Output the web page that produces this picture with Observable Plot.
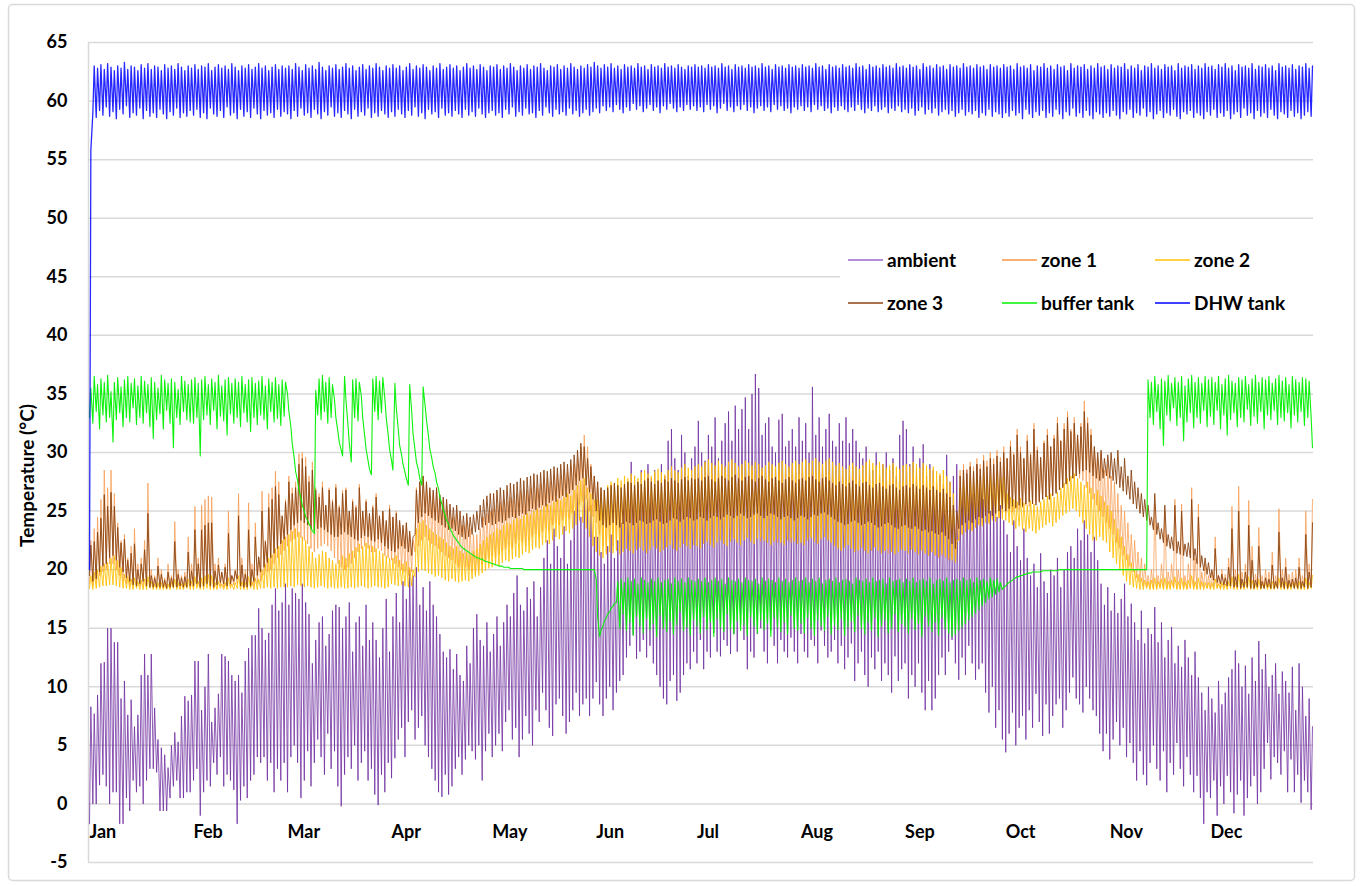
<!DOCTYPE html>
<html><head><meta charset="utf-8">
<script src="https://cdn.jsdelivr.net/npm/d3@7"></script>
<script src="https://cdn.jsdelivr.net/npm/@observablehq/plot@0.6"></script>
<style>
body{margin:0;background:#fff;}
#chart{position:relative;width:1362px;height:886px;}
#warn{position:absolute;left:100px;top:10px;color:red;font:12px sans-serif;}
</style></head><body><div id="chart"></div><div id="warn"></div>
<script>
// ---- categories / ticks ----
const months = ["Jan","Feb","Mar","Apr","May","Jun","Jul","Aug","Sep","Oct","Nov","Dec"];
const monthStartDay = [0,31,59,90,120,151,181,212,243,273,304,334];
const yTicks = [-5,0,5,10,15,20,25,30,35,40,45,50,55,60,65];
const seriesNames = ["ambient","zone 1","zone 2","zone 3","buffer tank","DHW tank"];
const seriesColors = ["#7030A0","#F79646","#FFC000","#8B4513","#00F000","#0000FF"];
const legendColors = ["#9966CC","#F79646","#FFC000","#8B4513","#00F000","#0000FF"];

// ---- daily values (morning reading, afternoon reading), Jan..Dec ----
const ambientLo = [
-1.7,0.0,0.0,1.6,2.5,1.5,0.0,1.0,1.0,-1.7,-1.7,0.5,-0.6,2.0,1.0,1.5,0.0,2.0,3.0,3.0,2.7,-0.6,-0.6,-0.6,0.5,1.5,2.0,0.5,0.5,1.0,1.0,
2.0,3.0,-1.0,1.0,2.0,1.5,3.5,2.5,4.0,1.5,2.5,2.0,1.2,-1.7,0.3,1.5,0.5,2.0,2.5,4.0,3.5,4.0,2.0,3.5,1.0,3.0,2.0,3.5,
1.0,4.0,5.0,3.5,0.5,2.0,4.5,1.5,3.5,5.5,4.0,2.5,6.0,3.0,4.5,1.5,-0.2,2.5,4.0,3.0,5.0,2.0,3.5,4.5,2.0,3.0,0.8,-0.1,2.5,1.0,3.5,
2.2,3.9,5.5,6.5,4.0,7.0,8.0,5.5,6.5,7.5,5.0,4.0,3.0,2.0,1.0,0.6,2.5,0.8,1.5,3.0,4.0,2.5,3.8,5.0,4.5,3.8,5.0,2.0,4.5,6.0,
4.0,5.0,6.0,4.5,7.0,8.0,5.5,6.5,4.0,5.5,7.5,6.0,5.0,8.0,7.0,9.5,8.0,6.5,5.8,8.5,9.0,7.5,6.0,7.0,8.0,9.5,7.5,8.5,9.0,7.5,9.0,
10.4,8.5,7.5,9.0,10.0,8.0,9.5,10.5,11.0,12.5,13.5,14.4,12.4,13.0,14.0,12.5,13.5,12.0,11.0,10.0,9.0,8.5,10.5,11.0,8.8,9.5,11.0,12.0,11.5,13.0,
12.0,14.0,11.5,13.0,12.5,14.6,13.0,12.6,14.0,13.5,12.8,14.5,13.0,15.3,14.0,11.5,13.0,12.5,14.5,15.0,13.0,12.0,14.8,13.5,12.0,14.0,13.0,12.5,14.2,13.0,12.0,
14.5,13.0,12.5,14.0,13.5,12.0,14.8,13.5,12.5,13.0,14.0,12.0,13.5,11.5,12.5,13.7,10.5,12.0,13.0,11.0,10.0,12.5,11.5,13.0,10.5,12.0,11.0,9.5,12.6,10.5,11.5,
12.0,9.0,11.0,10.0,12.0,9.5,8.0,10.5,8.0,9.0,11.0,12.5,11.0,13.0,14.0,12.0,10.6,12.5,11.0,13.5,12.0,10.6,11.5,12.0,9.5,7.8,10.0,6.5,8.0,5.5,
4.4,6.0,7.8,5.0,6.5,7.5,5.5,8.0,6.5,9.4,7.0,5.8,8.5,6.0,7.5,8.5,9.0,6.5,8.0,9.5,10.8,9.0,8.5,7.8,10.0,9.0,8.0,7.5,6.0,4.5,6.0,
3.8,5.5,7.0,5.0,6.5,4.0,5.2,3.5,2.0,4.5,2.5,1.6,3.5,5.0,3.0,2.0,4.5,1.0,3.5,2.5,5.2,3.0,1.5,4.0,2.5,1.0,2.4,0.5,-1.7,1.0,
0.5,2.0,-1.0,1.5,0.0,2.4,1.0,-0.8,0.8,2.0,-1.0,0.5,1.5,2.4,0.0,1.0,3.0,5.2,2.1,4.0,3.5,2.5,4.5,1.0,3.8,1.0,2.5,0.1,2.0,1.0,-0.5];
const ambientHi = [
8.3,7.7,9.3,12.0,12.1,15.0,15.0,13.8,13.8,9.0,10.5,7.6,8.9,6.6,7.6,11.0,12.8,11.0,12.8,8.2,5.5,4.8,4.2,3.1,5.0,6.1,5.3,7.5,9.2,8.8,9.3,
12.2,12.2,8.0,10.0,12.8,7.0,8.2,9.4,12.8,12.6,12.2,11.0,10.5,11.0,9.5,12.2,13.3,14.4,14.4,16.7,15.0,14.0,14.6,17.0,18.4,16.5,17.2,18.8,
17.0,18.4,18.0,17.5,18.8,17.2,16.2,12.0,14.0,15.5,16.0,13.5,14.5,16.5,17.0,16.8,15.0,16.0,17.2,13.0,15.5,16.0,13.5,17.0,14.0,15.5,14.0,12.5,15.0,17.5,13.0,
16.0,18.0,15.5,19.0,17.5,20.0,19.5,20.2,17.0,18.5,16.5,19.0,17.0,16.0,14.5,13.0,12.5,13.2,11.5,12.8,11.0,10.5,13.5,12.0,15.0,16.2,14.0,13.5,15.5,13.0,
14.5,16.0,13.5,15.5,17.0,16.0,18.0,19.5,17.0,16.5,18.5,17.5,19.0,16.0,18.5,21.0,22.5,20.5,23.5,22.0,21.0,23.7,20.5,22.5,25.0,26.5,24.5,27.3,26.0,25.5,22.8,
22.8,21.5,20.5,22.0,23.0,21.0,22.5,24.0,26.0,27.5,29.2,28.0,27.3,28.5,27.0,29.0,27.8,28.5,26.5,29.0,28.0,31.0,32.0,29.5,28.5,31.5,30.0,28.0,29.5,30.5,
32.7,30.0,29.3,31.5,30.5,33.0,29.5,31.0,32.5,33.5,31.0,34.0,32.0,33.7,34.7,32.0,35.0,36.7,35.5,31.5,32.5,33.0,30.5,30.0,32.8,33.3,30.5,31.0,32.0,30.5,33.0,
31.0,32.5,30.0,35.6,31.5,33.0,30.5,32.0,33.3,31.0,30.5,32.5,31.0,33.0,30.8,32.0,31.0,30.0,29.5,30.5,29.0,28.5,30.0,28.0,29.0,30.0,28.5,29.5,28.0,31.5,32.7,
32.0,29.0,30.5,28.5,29.5,30.7,28.0,29.0,28.5,27.0,28.0,26.5,29.8,27.5,28.0,29.0,26.0,27.5,28.5,27.0,26.5,29.0,28.0,26.0,27.0,25.0,26.5,24.5,25.5,24.2,
23.0,21.5,24.2,22.0,20.8,23.5,21.0,19.5,20.5,18.5,21.4,19.0,18.0,20.0,19.5,21.0,18.5,20.0,21.5,22.0,21.0,23.5,22.5,24.2,23.0,21.5,22.8,20.8,18.8,17.0,18.5,
16.5,18.0,16.3,17.5,18.8,16.0,17.1,15.5,14.0,16.5,13.7,15.0,14.5,16.8,13.8,15.5,12.5,14.0,15.1,12.0,13.5,11.7,14.0,12.5,11.0,13.0,10.8,9.5,8.0,10.0,
9.0,7.8,10.5,8.5,9.5,10.8,11.5,13.1,12.0,10.0,11.8,9.4,12.5,10.5,13.9,11.5,12.8,10.0,11.0,12.0,9.4,11.3,10.5,9.5,11.7,8.0,12.0,10.0,7.5,9.0,6.6];

const zone1Lo = [
18.8,18.6,18.8,19.5,19.8,20.0,20.5,20.5,20.0,19.5,19.0,18.8,18.6,18.5,18.5,18.6,18.6,18.5,18.5,18.4,18.4,18.4,18.4,18.4,18.4,18.5,18.5,18.4,18.4,18.5,18.5,
18.5,18.6,18.5,18.5,18.6,18.5,18.4,18.5,18.6,18.5,18.5,18.6,18.7,18.8,18.5,18.4,18.5,18.5,18.6,18.8,19.0,19.5,19.8,20.0,20.5,21.0,21.3,21.6,
22.0,22.4,22.6,22.8,22.7,22.5,22.2,21.8,21.5,21.8,22.0,22.2,22.0,21.6,21.0,20.5,20.2,20.0,20.2,20.5,21.0,21.5,21.8,22.0,21.8,21.5,21.5,21.8,21.6,21.2,21.0,
20.8,20.5,20.2,20.0,19.8,19.5,19.8,21.5,22.0,22.5,22.8,22.5,22.2,22.0,21.8,21.5,21.2,21.0,20.8,20.5,20.2,20.0,20.2,20.0,19.8,19.6,20.0,20.5,20.8,21.0,
21.2,21.0,21.3,21.6,21.8,22.0,21.8,22.2,22.5,22.3,22.0,22.5,22.8,23.0,22.8,23.2,23.5,23.3,23.8,24.0,23.8,24.2,24.5,24.3,24.8,25.0,25.5,25.8,26.0,25.0,24.5,
24.0,23.0,22.0,21.5,21.8,22.0,22.3,22.0,21.8,22.2,22.5,22.3,22.0,22.4,22.6,22.3,22.0,22.5,22.8,22.5,22.2,22.0,22.4,22.6,22.3,22.5,22.8,22.6,22.4,22.7,
22.6,22.4,22.8,22.5,22.3,22.7,22.9,22.6,22.4,22.8,23.0,22.7,22.5,22.9,23.1,22.8,22.6,23.0,22.7,22.4,22.6,22.9,22.7,22.5,22.3,22.6,22.8,22.5,22.3,22.6,22.8,
22.6,22.4,22.7,22.9,22.6,22.4,22.8,23.0,22.7,22.4,22.2,22.0,21.8,22.1,22.3,22.0,21.8,21.6,21.9,22.1,21.8,21.6,21.9,22.1,21.8,21.6,21.4,21.7,21.9,21.6,21.8,
22.0,21.8,22.0,21.6,21.5,21.8,21.4,21.3,21.5,21.2,21.0,21.2,21.0,20.8,21.0,21.2,22.5,23.0,23.2,23.5,23.4,23.7,23.9,24.0,24.2,24.1,24.4,24.6,24.5,24.8,
24.8,25.0,24.9,25.2,25.1,25.3,25.5,25.4,25.6,25.8,25.7,26.0,26.2,26.0,26.4,26.6,26.8,27.0,27.3,27.5,27.8,28.0,27.8,27.6,27.0,26.5,26.0,25.5,25.0,24.5,24.0,
23.5,23.0,22.3,21.8,21.2,20.8,20.3,19.8,19.3,18.9,18.6,18.5,18.5,18.4,18.5,18.5,18.4,18.4,18.5,18.5,18.4,18.4,18.5,18.4,18.4,18.5,18.4,18.4,18.5,18.4,
18.4,18.5,18.4,18.4,18.5,18.4,18.4,18.5,18.4,18.4,18.5,18.4,18.4,18.4,18.5,18.4,18.4,18.5,18.4,18.4,18.4,18.5,18.4,18.4,18.5,18.4,18.4,18.4,18.5,18.4,18.5];
const zone1Hi = [
22.5,23.5,24.5,26.0,28.5,27.0,28.5,26.5,24.0,22.5,23.0,21.0,22.0,23.5,20.5,21.0,22.5,27.4,20.0,19.5,21.0,20.0,19.3,20.5,19.5,24.1,20.0,19.5,19.8,22.8,20.5,
25.4,21.0,25.5,26.0,26.3,26.2,20.5,21.0,19.8,20.5,25.0,19.5,20.0,26.5,21.0,20.0,25.7,20.5,24.0,21.0,26.7,22.5,26.5,27.0,28.4,27.5,24.5,26.0,
28.0,27.0,27.5,29.9,30.0,29.6,28.0,29.2,27.0,26.5,27.5,25.5,27.0,26.0,27.3,25.5,26.8,27.0,25.0,26.0,25.5,27.3,25.0,26.0,24.5,25.5,26.5,24.5,25.0,24.0,25.5,
24.5,25.0,24.0,23.5,24.0,23.0,22.5,27.0,27.5,28.0,27.3,26.8,26.5,27.0,26.0,25.8,25.5,25.0,24.5,25.0,24.2,23.8,24.0,23.5,23.0,23.0,23.5,24.5,24.8,25.0,
25.2,25.5,25.8,26.0,25.8,26.2,26.0,26.5,26.8,26.5,26.8,27.0,27.2,27.0,27.3,27.5,27.8,27.5,28.0,28.2,28.0,28.5,28.3,28.8,29.0,29.5,30.5,31.5,30.5,29.0,28.0,
27.5,27.0,26.5,26.8,27.0,27.3,27.0,26.8,27.2,27.5,27.3,27.0,27.4,27.2,27.5,27.8,27.3,27.0,27.5,27.2,27.6,27.4,27.8,27.5,27.3,27.6,27.9,27.5,27.8,27.6,
27.8,28.0,27.6,27.9,28.2,28.0,27.7,28.1,28.3,28.0,27.8,28.2,28.4,28.1,27.9,28.3,28.5,28.2,28.0,28.4,28.2,27.9,28.1,28.4,28.6,28.3,28.0,28.2,28.5,28.3,28.1,
28.4,28.2,28.0,28.5,28.3,28.6,28.4,28.1,28.3,28.0,27.8,28.1,27.9,27.6,27.8,28.0,27.7,27.5,27.8,28.0,27.6,27.4,27.7,27.9,27.5,27.3,27.6,27.8,27.4,27.2,27.5,
27.8,27.5,27.9,28.0,27.6,28.2,27.8,27.5,27.9,27.4,27.0,27.3,26.8,26.5,25.5,24.5,28.5,29.0,28.6,29.2,28.8,29.5,29.0,29.8,29.3,30.0,29.5,30.2,29.6,30.5,
29.5,31.0,30.0,32.0,30.5,29.5,31.5,30.0,32.5,30.5,29.5,31.0,32.0,30.5,31.5,33.0,31.0,32.5,33.5,32.0,33.0,31.5,32.5,34.4,33.0,32.0,30.5,29.5,30.0,28.5,29.0,
28.0,27.5,26.5,25.5,25.0,24.0,23.0,22.5,21.5,21.0,20.5,19.5,20.0,25.6,19.5,20.5,25.0,19.8,20.5,26.0,20.0,25.6,19.5,20.5,27.0,21.0,25.6,19.8,20.5,19.5,
19.8,22.8,19.5,20.0,19.6,21.0,25.4,20.0,27.1,19.8,20.5,25.9,22.0,19.6,23.6,19.5,20.0,19.8,21.5,19.5,25.2,20.0,21.0,19.6,19.8,20.0,21.0,19.5,25.0,20.5,26.0];

const zone2Lo = [
18.4,18.3,18.4,18.5,18.6,18.6,18.7,18.7,18.6,18.5,18.4,18.4,18.3,18.3,18.4,18.3,18.3,18.3,18.4,18.3,18.3,18.3,18.3,18.3,18.3,18.4,18.3,18.3,18.3,18.4,18.3,
18.3,18.4,18.3,18.3,18.4,18.3,18.3,18.3,18.4,18.3,18.3,18.4,18.3,18.4,18.3,18.3,18.3,18.4,18.3,18.3,18.4,18.4,18.5,18.4,18.5,18.4,18.5,18.5,
18.5,18.6,18.5,18.7,18.6,18.5,18.6,18.5,18.4,18.5,18.6,18.5,18.4,18.5,18.4,18.4,18.5,18.4,18.4,18.5,18.4,18.5,18.6,18.5,18.4,18.5,18.6,18.5,18.5,18.4,18.5,
18.8,18.7,18.6,18.7,18.6,18.5,18.6,19.4,19.8,20.0,19.9,19.7,19.6,19.4,19.5,19.3,19.1,19.0,19.2,19.0,18.9,19.0,19.1,19.0,19.2,19.4,19.5,19.7,19.9,20.1,
20.2,20.4,20.3,20.6,20.8,20.7,20.9,21.1,21.0,21.3,21.5,21.4,21.7,21.9,21.8,22.1,22.3,22.2,22.5,22.8,22.6,23.0,23.3,23.1,23.5,23.8,24.2,24.0,23.5,22.8,22.0,
21.5,21.2,21.0,21.3,21.5,21.4,21.6,21.3,21.5,21.8,21.6,21.4,21.7,21.9,21.6,21.4,21.7,22.0,21.8,21.5,21.7,21.9,22.1,21.8,21.6,21.9,22.2,22.0,21.8,22.1,
22.0,21.8,22.2,22.4,22.1,21.9,22.3,22.5,22.2,22.0,22.4,22.6,22.3,22.1,22.5,22.7,22.4,22.2,22.6,22.8,22.5,22.3,22.1,22.4,22.6,22.3,22.1,22.5,22.7,22.4,22.2,
22.3,22.1,22.5,22.7,22.4,22.2,22.6,22.8,22.5,22.3,22.0,21.8,21.6,21.9,22.1,21.8,21.5,21.7,21.9,21.6,21.4,21.7,21.9,21.6,21.4,21.6,21.8,21.5,21.3,21.5,21.7,
21.6,21.4,21.7,21.5,21.3,21.6,21.4,21.2,21.5,21.3,21.1,21.4,21.2,21.0,20.8,20.6,22.5,23.0,23.2,23.4,23.3,23.6,23.8,23.7,24.0,23.9,24.2,24.1,24.4,24.3,
24.2,24.0,23.8,23.5,23.7,23.4,23.2,23.5,23.3,23.1,23.4,23.6,23.8,24.0,23.7,24.0,24.3,24.6,24.8,25.0,25.2,25.0,24.5,24.0,23.5,23.0,22.5,22.5,22.8,22.5,22.3,
21.5,21.0,20.5,20.0,19.5,19.0,18.7,18.5,18.4,18.3,18.3,18.4,18.3,18.3,18.3,18.4,18.3,18.3,18.3,18.4,18.3,18.3,18.3,18.3,18.4,18.3,18.3,18.3,18.3,18.4,
18.3,18.3,18.4,18.3,18.3,18.3,18.4,18.3,18.3,18.3,18.3,18.4,18.3,18.3,18.3,18.3,18.4,18.3,18.3,18.3,18.4,18.3,18.3,18.3,18.3,18.4,18.3,18.3,18.3,18.3,18.4];
const zone2Hi = [
19.5,19.8,20.0,20.3,20.5,20.6,21.0,21.2,20.8,20.2,19.6,19.4,19.2,19.3,19.0,19.1,19.2,19.4,19.0,18.8,18.9,18.9,18.8,18.8,18.9,19.2,18.9,18.8,18.9,19.2,19.0,
19.4,19.0,19.3,19.5,19.6,19.5,18.9,19.0,18.8,18.9,19.3,18.8,18.9,19.5,19.0,18.9,19.4,19.0,19.3,19.2,20.0,20.5,21.0,21.3,21.8,22.0,22.5,22.8,
23.0,23.3,23.5,23.2,22.8,22.5,22.0,21.5,21.0,21.3,21.6,21.5,21.0,20.8,20.5,20.8,21.2,21.0,21.4,21.6,21.9,22.2,22.0,22.3,22.1,22.0,21.8,21.6,21.4,21.2,21.0,
21.0,21.2,20.8,20.5,20.7,20.2,20.0,23.5,24.0,24.2,23.8,23.5,23.2,23.0,22.8,22.6,22.3,22.0,21.8,22.0,21.6,21.4,21.5,21.3,21.6,21.8,22.2,22.5,22.8,23.0,
23.2,23.5,23.4,23.8,24.0,23.9,24.2,24.4,24.3,24.6,24.8,24.7,25.0,25.2,25.1,25.4,25.6,25.5,25.8,26.0,25.9,26.2,26.5,26.3,26.8,27.2,27.6,27.8,27.0,26.5,26.0,
26.0,26.5,26.8,27.2,27.5,27.3,27.8,27.6,28.0,27.8,28.2,28.0,27.8,28.3,28.5,28.2,28.0,28.4,28.6,28.3,28.1,28.5,28.8,28.5,28.3,28.7,29.0,28.7,28.5,28.8,
29.0,28.8,29.2,29.4,29.1,28.9,29.3,29.0,28.8,29.2,29.4,29.1,28.8,29.0,29.3,29.1,28.9,29.2,29.0,28.7,28.9,29.2,29.0,28.8,29.1,29.3,29.0,28.8,29.1,29.3,29.0,
29.2,29.4,29.1,29.3,29.5,29.2,29.0,29.3,29.5,29.2,28.9,29.1,28.8,28.6,28.9,29.1,28.8,28.6,28.9,29.2,29.4,29.1,28.9,29.2,29.0,28.7,28.9,29.1,28.8,28.6,28.9,
29.0,28.8,29.2,29.0,28.7,29.1,28.9,28.6,28.8,28.4,28.2,28.5,28.0,27.5,26.5,22.5,27.0,27.5,27.2,27.8,27.5,28.0,27.6,28.2,27.8,28.0,27.5,28.2,27.8,28.0,
26.5,26.2,26.0,25.8,26.1,25.7,25.5,25.9,25.6,25.4,25.8,26.0,26.3,26.5,26.2,26.6,27.0,27.4,27.8,28.0,28.2,27.8,27.5,27.2,27.5,27.0,26.5,26.8,26.3,25.8,25.5,
25.0,24.3,23.5,22.8,22.0,21.3,20.6,20.0,19.6,19.3,19.1,19.0,19.1,19.3,19.0,19.2,19.3,19.0,19.1,19.4,19.0,19.3,19.0,19.1,19.5,19.0,19.3,19.0,18.9,18.9,
18.9,19.2,18.8,18.9,18.8,19.0,19.4,18.9,19.6,18.9,19.0,19.4,19.1,18.8,19.2,18.8,18.9,18.8,19.0,18.8,19.3,18.9,19.0,18.8,18.9,18.9,19.0,18.8,19.3,18.9,19.5];

const zone3Lo = [
19.5,19.0,19.2,19.8,20.3,20.5,21.0,21.2,20.8,20.2,19.8,19.3,19.0,18.7,18.6,18.8,19.0,18.6,18.5,18.5,18.5,18.5,18.5,18.4,18.5,18.5,18.5,18.6,18.5,18.5,18.6,
18.6,18.8,18.5,18.6,18.8,18.6,18.5,18.7,18.9,18.8,18.6,18.8,19.0,19.2,18.6,18.5,18.5,18.6,19.0,19.5,19.8,20.2,20.6,21.0,21.4,21.8,22.2,22.6,
23.0,23.4,23.8,24.0,24.2,24.0,23.8,23.5,23.3,23.5,23.6,23.4,23.2,23.0,22.8,22.8,23.0,23.2,23.0,22.8,22.6,22.5,22.7,22.9,22.8,22.5,22.4,22.6,22.3,22.0,21.8,
21.6,21.5,21.8,22.0,21.8,21.5,21.2,23.0,24.0,24.5,24.8,24.6,24.4,24.2,24.0,23.8,23.6,23.4,23.5,23.3,23.0,22.8,22.6,22.8,23.0,23.2,23.4,23.6,23.8,24.0,
23.8,23.9,24.1,24.0,24.2,24.4,24.5,24.4,24.6,24.8,24.7,25.0,25.2,25.1,25.3,25.5,25.4,25.7,25.9,25.8,26.1,26.3,26.2,26.5,26.8,27.2,27.6,27.8,27.2,26.6,26.0,
25.0,24.2,23.8,23.6,23.8,24.0,23.8,23.6,23.9,24.1,24.0,23.8,24.0,24.2,24.1,23.9,24.0,24.2,24.3,24.1,23.9,24.0,24.2,24.4,24.3,24.1,24.3,24.5,24.4,24.2,
24.3,24.5,24.4,24.2,24.4,24.6,24.5,24.3,24.5,24.7,24.6,24.4,24.6,24.8,24.6,24.4,24.5,24.7,24.8,24.6,24.4,24.6,24.8,24.7,24.5,24.3,24.5,24.6,24.4,24.2,24.4,
24.6,24.5,24.3,24.5,24.7,24.6,24.8,24.9,24.7,24.5,24.3,24.1,24.0,23.8,23.9,24.1,24.2,24.0,23.8,23.9,24.1,24.0,23.8,23.6,23.7,23.9,24.0,23.8,23.6,23.5,23.7,
23.8,23.6,23.5,23.7,23.5,23.3,23.4,23.2,23.3,23.1,23.0,23.2,22.9,22.6,22.2,21.8,23.5,23.8,24.0,24.2,24.0,24.3,24.5,24.4,24.6,24.8,24.6,24.8,25.0,25.2,
25.0,25.2,25.4,25.3,25.5,25.4,25.6,25.8,25.6,25.5,25.8,26.0,26.2,26.0,26.3,26.5,26.8,27.0,27.3,27.6,27.8,28.0,28.2,28.4,28.5,28.3,28.0,27.8,27.6,27.8,28.0,
27.8,27.6,27.3,27.0,26.7,26.4,26.0,25.6,25.2,24.8,24.5,24.2,23.8,23.4,23.0,22.6,22.3,22.0,21.8,21.6,21.4,21.3,21.2,21.1,21.0,20.8,20.5,20.2,19.9,19.6,
19.3,19.1,18.9,18.8,18.7,18.6,18.6,18.5,18.5,18.4,18.5,18.5,18.4,18.4,18.5,18.4,18.4,18.5,18.4,18.4,18.4,18.5,18.4,18.4,18.5,18.4,18.4,18.4,18.5,18.4,18.5];
const zone3Hi = [
22.1,22.4,23.2,24.4,26.4,25.4,26.6,25.4,23.6,22.3,22.6,20.8,21.4,22.2,20.0,20.5,21.7,24.8,19.5,19.3,20.3,19.6,19.1,19.8,19.3,22.4,19.6,19.3,19.4,21.5,19.9,
23.4,20.5,23.4,23.8,24.0,24.0,19.9,20.4,19.8,20.2,23.1,19.5,19.9,24.6,20.4,19.6,23.4,20.0,22.8,21.1,25.0,22.4,25.3,26.0,27.1,26.4,24.6,25.8,
27.5,26.5,27.0,29.0,29.5,28.8,27.5,28.5,26.8,26.2,27.0,25.5,26.8,25.8,27.0,25.3,26.5,26.8,25.0,25.8,25.3,27.0,25.0,25.8,24.8,25.3,26.2,24.6,25.0,24.2,25.2,
24.5,24.8,24.2,23.8,24.0,23.3,22.8,26.8,27.5,28.0,27.5,27.0,26.8,27.0,26.4,26.2,26.0,25.6,25.3,25.5,25.0,24.6,24.8,24.5,24.7,25.0,25.5,26.0,26.3,26.5,
26.5,26.8,27.0,26.8,27.2,27.4,27.3,27.5,27.8,27.6,27.9,28.0,28.2,28.1,28.3,28.5,28.4,28.6,28.8,28.7,29.0,29.2,29.0,29.4,29.8,30.2,30.8,30.5,29.5,28.8,28.0,
27.5,27.0,26.8,27.0,27.2,27.4,27.2,27.0,27.3,27.5,27.4,27.2,27.5,27.3,27.6,27.8,27.5,27.3,27.6,27.4,27.7,27.5,27.8,27.6,27.4,27.7,27.9,27.6,27.8,27.7,
27.8,27.6,27.9,28.0,27.7,27.5,27.8,28.0,27.8,27.6,27.9,28.1,27.8,27.6,27.9,28.0,27.7,27.5,27.8,28.0,27.7,27.5,27.8,27.9,27.6,27.4,27.7,27.9,27.6,27.4,27.7,
27.8,27.6,27.9,28.0,27.7,27.5,27.8,27.9,27.6,27.4,27.2,27.5,27.3,27.1,27.4,27.6,27.3,27.1,27.4,27.5,27.2,27.0,27.3,27.4,27.1,26.9,27.2,27.3,27.0,26.8,27.1,
27.2,27.0,27.3,27.1,26.9,27.2,27.0,26.8,27.1,26.8,26.6,26.9,26.5,26.2,25.5,25.0,28.0,28.5,28.2,28.8,28.4,29.0,28.6,29.3,28.8,29.5,29.0,29.7,29.2,30.0,
29.5,30.5,29.8,31.5,30.0,29.5,31.0,29.8,32.0,30.2,29.6,30.8,31.5,30.5,31.2,32.5,31.0,32.0,33.0,31.8,32.5,31.5,32.2,33.5,32.5,31.5,30.5,30.0,30.2,29.5,29.8,
30.0,29.5,30.2,28.8,29.5,28.0,28.5,27.5,27.0,26.5,26.0,25.5,24.5,26.5,24.0,23.5,25.5,23.0,22.8,25.5,22.4,25.0,22.2,22.3,26.0,21.8,24.5,21.2,21.0,20.6,
20.0,21.8,19.5,19.6,19.3,20.2,23.5,19.4,25.0,19.2,19.8,23.8,20.8,19.1,22.0,19.0,19.3,19.2,20.4,19.0,23.2,19.3,20.2,19.1,19.2,19.3,20.2,19.0,23.0,19.8,24.0];

const bufferAM = [
33.0,32.5,33.5,32.0,33.2,32.6,33.0,30.9,32.8,33.4,32.2,33.0,32.6,33.8,32.4,33.0,32.5,33.4,32.2,31.2,32.8,33.3,32.0,33.6,32.5,30.4,33.0,32.4,33.5,32.8,32.6,
32.5,33.0,29.7,32.8,33.2,32.4,33.6,32.0,33.1,32.7,31.5,33.3,32.5,33.0,32.2,33.4,32.6,31.8,33.0,32.4,33.2,32.8,32.0,33.5,32.6,32.9,32.3,33.1,
35.0,32.2,29.5,27.6,26.1,25.0,24.2,23.6,23.1,33.2,32.8,33.5,32.5,33.0,34.5,31.8,30.2,36.5,32.4,29.2,33.0,32.7,34.8,31.4,29.3,28.1,33.5,32.8,33.4,34.6,31.5,
29.3,35.9,32.0,29.8,28.3,27.2,33.5,30.2,28.5,27.2,34.0,31.4,29.5,28.2,26.9,25.6,24.6,23.9,23.2,22.7,22.3,21.9,21.7,21.5,21.3,21.1,21.0,20.9,20.7,20.6,
20.5,20.4,20.3,20.3,20.2,20.2,20.1,20.1,20.1,20.1,20.0,20.0,20.0,20.0,20.0,20.0,20.0,20.0,20.0,20.0,20.0,20.0,20.0,20.0,20.0,20.0,20.0,20.0,20.0,20.0,20.0,
19.1,14.3,15.2,15.9,16.4,16.9,17.2,15.0,16.2,14.8,15.5,14.4,16.0,15.2,14.6,15.8,14.9,15.4,14.3,16.1,15.0,14.7,15.6,14.5,15.3,16.4,14.8,15.1,14.4,15.7,
15.2,14.6,16.0,14.9,15.5,14.3,15.8,15.1,14.7,16.2,15.0,14.5,15.6,14.8,15.3,14.4,16.0,15.2,14.6,15.7,14.9,15.4,14.3,15.9,15.1,14.7,15.5,14.5,16.1,15.0,14.8,
15.4,14.6,15.9,15.0,14.4,15.7,15.2,14.8,16.0,14.5,15.3,14.9,15.8,14.4,15.1,15.6,14.7,16.1,15.0,14.5,15.5,14.8,15.9,14.3,15.2,15.7,14.6,15.0,16.2,14.7,15.4,
15.1,14.6,15.8,14.9,15.4,14.3,16.0,15.2,14.7,15.5,14.4,15.9,15.0,14.6,14.3,14.5,14.8,15.1,15.4,15.7,16.0,16.3,16.6,16.9,17.2,17.5,17.7,17.9,18.1,18.3,
18.6,18.9,19.1,19.3,19.4,19.5,19.6,19.7,19.8,19.8,19.8,19.9,19.9,19.9,19.9,19.9,20.0,20.0,20.0,20.0,20.0,20.0,20.0,20.0,20.0,20.0,20.0,20.0,20.0,20.0,20.0,
20.0,20.0,20.0,20.0,20.0,20.0,20.0,20.0,20.0,20.0,20.0,20.0,33.0,32.4,33.5,32.0,30.6,33.2,32.7,33.8,32.3,33.0,31.0,32.6,33.4,32.1,33.0,32.5,33.6,32.2,
33.1,32.4,33.6,32.0,33.2,31.5,32.8,33.4,32.2,33.0,32.6,33.7,32.3,33.1,32.5,33.5,32.0,33.2,32.8,33.6,32.4,33.0,32.7,33.4,32.1,33.2,32.6,33.5,32.3,33.0,33.0];
const bufferPM = [
35.5,36.5,35.8,36.3,36.0,36.6,35.2,36.0,36.4,35.6,36.2,36.5,35.9,36.3,35.7,36.5,36.1,35.8,36.4,36.0,35.5,36.6,36.2,35.9,36.3,36.0,35.4,36.5,36.1,35.8,36.2,
36.4,35.9,36.2,36.5,35.8,36.3,36.0,36.6,35.7,36.2,36.4,35.9,36.3,36.0,36.5,35.8,36.2,36.4,35.9,36.1,36.5,35.7,36.3,36.0,36.4,35.8,36.2,36.0,
33.5,30.8,28.4,26.8,25.5,24.5,23.9,23.3,35.3,36.3,36.6,36.0,36.4,35.8,33.0,30.9,29.7,34.5,30.8,36.2,36.3,36.0,33.0,30.3,28.6,36.3,36.5,36.1,36.4,33.0,30.3,
28.5,33.8,30.6,29.0,27.8,35.8,31.6,29.2,27.8,35.6,32.8,30.3,28.8,27.5,26.2,25.1,24.2,23.5,22.9,22.5,22.1,21.8,21.6,21.4,21.2,21.0,20.9,20.8,20.7,20.6,
20.5,20.4,20.3,20.2,20.2,20.1,20.1,20.1,20.1,20.0,20.0,20.0,20.0,20.0,20.0,20.0,20.0,20.0,20.0,20.0,20.0,20.0,20.0,20.0,20.0,20.0,20.0,20.0,20.0,20.0,20.0,
16.0,14.8,15.6,16.2,16.7,17.1,19.0,19.2,18.9,19.3,19.0,19.2,18.8,19.3,19.1,18.9,19.2,19.0,19.3,18.9,19.1,19.2,18.8,19.3,19.0,19.2,18.9,19.3,19.1,19.0,
19.2,19.0,19.3,18.9,19.1,19.3,19.0,19.2,18.8,19.3,19.1,19.0,19.2,18.9,19.3,19.1,19.0,19.2,18.8,19.3,19.0,19.2,19.1,18.9,19.3,19.0,19.2,18.9,19.1,19.3,19.0,
19.1,19.3,18.9,19.2,19.0,19.3,18.8,19.1,19.2,19.0,19.3,18.9,19.1,19.2,19.0,18.8,19.3,19.1,19.0,19.2,18.9,19.3,19.0,19.1,19.2,18.8,19.3,19.0,19.1,19.2,18.9,
19.2,19.0,19.3,18.9,19.1,19.2,19.0,19.3,18.8,19.1,19.2,19.0,19.3,18.9,19.1,19.2,19.0,19.3,19.1,19.2,18.9,19.3,19.1,19.2,19.0,19.3,19.1,19.2,18.9,18.5,
18.8,19.0,19.2,19.4,19.5,19.6,19.7,19.7,19.8,19.8,19.8,19.9,19.9,19.9,19.9,19.9,20.0,20.0,20.0,20.0,20.0,20.0,20.0,20.0,20.0,20.0,20.0,20.0,20.0,20.0,20.0,
20.0,20.0,20.0,20.0,20.0,20.0,20.0,20.0,20.0,20.0,20.0,36.2,36.0,36.5,35.8,36.3,36.1,36.6,35.9,36.4,36.0,36.5,35.7,36.3,36.6,36.0,36.4,35.9,36.5,36.2,
36.4,36.0,36.5,35.8,36.3,36.6,36.1,35.9,36.4,36.2,36.5,35.8,36.3,36.6,36.0,36.4,36.2,36.5,35.9,36.3,36.6,36.1,36.4,35.8,36.5,36.2,36.0,36.4,36.3,36.1,30.4];

const dhwLo = [
20.0,59.0,58.6,59.2,58.8,59.5,58.7,59.1,58.5,59.3,58.9,59.6,58.6,59.0,58.8,59.4,58.5,59.2,58.7,59.0,58.6,59.3,58.9,58.5,59.1,58.8,59.4,58.6,59.0,58.7,59.2,
58.8,59.3,58.6,59.0,58.5,59.4,58.9,58.7,59.2,58.6,59.5,58.8,59.0,58.5,59.3,58.7,59.1,58.6,59.4,58.9,58.5,59.2,58.8,59.0,58.6,59.3,58.7,59.1,
58.9,58.5,59.2,58.7,59.4,58.8,59.0,58.6,59.3,58.9,58.5,59.1,58.8,59.5,58.7,59.0,58.6,59.2,58.9,58.5,59.3,58.7,59.1,58.8,59.4,58.6,59.0,58.7,59.2,58.9,58.6,
59.1,58.7,59.3,58.9,58.6,59.2,58.8,59.5,58.7,59.0,58.5,59.3,58.9,59.1,58.6,59.4,58.8,59.0,58.7,59.2,58.9,58.6,59.3,58.8,59.1,58.7,59.4,58.9,58.6,59.0,
59.2,58.8,59.0,58.6,59.3,58.9,59.5,58.7,59.1,58.8,59.4,58.9,59.0,58.6,59.2,58.8,59.5,59.0,58.7,59.3,58.9,59.1,58.8,59.4,58.9,59.2,58.7,59.0,59.3,58.8,59.1,
59.4,59.0,59.6,59.2,59.5,59.1,59.7,59.3,59.0,59.5,59.2,59.8,59.3,59.6,59.1,59.4,59.7,59.2,59.5,59.0,59.6,59.3,59.8,59.4,59.1,59.5,59.2,59.7,59.3,59.6,
59.2,59.5,59.1,59.7,59.3,59.6,59.0,59.4,59.8,59.2,59.5,59.1,59.6,59.3,59.7,59.2,59.5,59.0,59.4,59.6,59.2,59.5,59.1,59.7,59.3,59.6,59.2,59.4,59.0,59.5,59.3,
59.6,59.2,59.5,59.1,59.7,59.3,59.6,59.2,59.4,59.0,59.5,59.2,59.6,59.3,59.1,59.5,59.2,59.7,59.3,59.0,59.4,59.2,59.6,59.1,59.3,59.5,59.0,59.4,59.2,59.6,59.1,
59.3,59.0,59.4,58.8,59.2,59.5,58.9,59.3,59.0,59.4,58.8,59.1,59.3,58.9,59.2,58.7,59.0,59.3,58.8,59.1,58.9,59.2,58.6,59.0,58.8,59.3,58.7,59.1,58.9,58.6,
59.0,58.7,59.2,58.8,59.0,58.5,59.3,58.9,58.6,59.1,58.8,59.2,58.6,59.0,58.7,59.3,58.9,58.5,59.1,58.8,59.4,58.7,59.0,58.6,59.2,58.8,58.5,59.1,58.9,58.6,59.0,
58.7,59.2,58.8,58.5,59.1,58.9,59.3,58.6,59.0,58.8,59.4,58.7,59.1,58.5,58.9,59.2,58.6,59.0,58.8,59.3,58.7,58.5,59.1,58.9,59.2,58.6,59.0,58.8,58.5,59.1,
58.8,59.3,58.6,59.0,58.7,59.2,58.5,58.9,59.1,58.6,59.4,58.8,59.0,58.5,59.2,58.7,59.0,58.6,59.3,58.8,58.5,59.1,58.9,58.6,59.2,58.7,59.0,58.5,58.8,59.1,58.7];
const dhwHi = [
55.8,63.0,62.8,63.1,62.7,63.2,62.9,62.6,63.0,62.8,63.3,62.7,63.0,62.9,62.6,63.1,62.8,63.2,62.7,63.0,62.9,62.6,63.1,62.8,63.0,62.7,63.2,62.9,62.6,63.0,62.8,
63.1,62.7,63.0,62.9,63.2,62.6,62.9,63.1,62.8,63.0,62.7,63.2,62.9,62.6,63.0,62.8,63.1,62.7,62.9,63.2,62.8,63.0,62.6,62.9,63.1,62.7,63.0,62.8,
63.0,62.7,63.2,62.9,62.6,63.1,62.8,63.0,62.7,63.3,62.9,62.6,63.0,62.8,63.1,62.7,62.9,63.2,62.8,63.0,62.6,62.9,63.1,62.7,63.0,62.8,63.2,62.9,62.6,63.0,62.8,
63.1,62.8,63.0,62.6,62.9,63.2,62.7,63.0,62.8,63.1,62.9,62.6,63.0,62.8,63.2,62.7,62.9,63.1,62.8,63.0,62.6,62.9,63.2,62.8,63.0,62.7,63.1,62.9,62.6,63.0,
62.9,63.1,62.7,63.0,62.8,63.2,62.9,62.6,63.0,62.8,63.1,62.7,63.0,62.9,63.2,62.8,62.6,63.0,62.9,63.1,62.7,63.0,62.8,63.2,62.9,62.7,63.0,62.8,63.1,62.9,63.3,
63.0,62.8,63.1,62.9,63.2,62.8,63.0,62.7,63.1,62.9,63.0,62.8,63.2,62.9,63.0,62.7,63.1,62.9,63.0,62.8,63.2,62.9,63.0,62.8,63.1,62.9,62.7,63.0,62.9,63.1,
62.9,63.0,62.8,63.1,62.9,63.0,62.8,63.2,62.9,63.0,62.7,63.1,62.9,63.0,62.8,63.1,62.9,63.0,62.8,63.2,62.9,63.0,62.7,63.1,62.9,63.0,62.8,63.1,62.9,63.0,62.8,
63.1,62.9,63.0,62.8,63.2,62.9,63.0,62.7,63.1,62.9,63.0,62.8,63.1,62.9,63.0,62.8,63.2,62.9,63.0,62.7,63.1,62.9,63.0,62.8,63.1,62.9,63.0,62.8,63.2,62.9,63.0,
62.8,63.1,62.9,63.0,62.7,63.2,62.9,63.0,62.8,63.1,62.9,63.0,62.7,63.1,62.9,63.0,62.8,63.2,62.9,63.0,62.8,63.1,62.9,63.0,62.7,63.1,62.9,63.0,62.8,63.1,
62.9,63.0,62.7,63.2,62.9,63.0,62.8,63.1,62.6,63.0,62.9,63.2,62.8,63.0,62.7,63.1,62.9,63.0,62.6,63.2,62.8,63.0,62.9,63.1,62.7,63.0,62.8,63.2,62.9,63.0,62.7,
63.1,62.8,63.0,62.9,63.2,62.7,63.0,62.8,63.1,62.6,63.0,62.9,63.2,62.8,63.0,62.7,63.1,62.9,63.0,62.6,63.2,62.8,63.0,62.9,63.1,62.7,63.0,62.8,63.2,62.9,
63.0,62.7,63.1,62.9,63.2,62.8,63.0,62.6,63.1,62.9,63.0,62.8,63.2,62.7,63.0,62.9,63.1,62.8,63.0,62.6,63.2,62.9,63.0,62.8,63.1,62.7,63.0,62.9,63.2,62.8,63.0];

// ---- build line data from the arrays ----
const seriesArrays = [
  [ambientLo, ambientHi], [zone1Lo, zone1Hi], [zone2Lo, zone2Hi],
  [zone3Lo, zone3Hi], [bufferAM, bufferPM], [dhwLo, dhwHi]
];
const warn = [];
seriesArrays.forEach(([a,b],i)=>{ if(a.length!==365||b.length!==365) warn.push(seriesNames[i]+": "+a.length+"/"+b.length); });
document.getElementById("warn").textContent = warn.join("  ");

const points = [];
seriesArrays.forEach(([am, pm], i) => {
  am.forEach((v, d) => {
    points.push({series: seriesNames[i], day: d + 0.3, temp: v});
    points.push({series: seriesNames[i], day: d + 0.7, temp: pm[d]});
  });
});
const opac = {"ambient":0.8,"zone 1":0.7,"zone 2":0.85,"zone 3":0.9,"buffer tank":0.95,"DHW tank":0.85};
const widths = {"ambient":1,"zone 1":1,"zone 2":1,"zone 3":1,"buffer tank":1.1,"DHW tank":1.3};

const lineMarks = seriesNames.map((name, i) =>
  Plot.line(points.filter(p => p.series === name), {
    x: "day", y: "temp", stroke: seriesColors[i], strokeWidth: widths[name], strokeOpacity: opac[name]
  })
);

const chart = Plot.plot({
  width: 1362, height: 886,
  marginLeft: 88, marginRight: 49, marginTop: 42, marginBottom: 24,
  style: {fontFamily: "Lato, 'Open Sans', sans-serif", fontSize: "18px", fontWeight: "bold", color: "#000", background: "#fff"},
  x: {domain: [0, 365], axis: null},
  y: {domain: [-5, 65]},
  marks: [
    Plot.ruleY(yTicks, {stroke: "#d9d9d9", strokeWidth: 1.5}),
    Plot.ruleX([0], {stroke: "#d9d9d9", strokeWidth: 1.5}),
    Plot.axisY({ticks: yTicks, tickSize: 0, tickPadding: 21, label: null, tickFormat: d => String(d),
      fontSize: 18, fontWeight: "bold", fill: "#000"}),
    ...lineMarks,
    Plot.text(monthStartDay, {x: d => d, text: (d, i) => months[i], frameAnchor: "bottom", dy: -25, dx: 1,
      textAnchor: "start", fontSize: 18, fontWeight: "bold", fill: "#000"}),
    Plot.text(["Temperature (°C)"], {frameAnchor: "left", dx: -61, dy: 23, rotate: -90, textAnchor: "middle",
      fontSize: "19px", fontWeight: "bold", fill: "#000"})
  ]
});
document.getElementById("chart").appendChild(chart);

// legend box inside the plot area + outer chart border
const svg = d3.select(chart);
const lg = svg.append("g").attr("text-anchor", "start");
lg.append("rect").attr("x", 840).attr("y", 236).attr("width", 473).attr("height", 88).attr("fill", "#fff");
const colX = [848, 1002, 1155], rowY = [260, 303];
seriesNames.forEach((name, i) => {
  const x = colX[i % 3], y = rowY[Math.floor(i / 3)];
  lg.append("line").attr("x1", x).attr("x2", x + 35).attr("y1", y).attr("y2", y)
    .attr("stroke", legendColors[i]).attr("stroke-width", 1.5);
  lg.append("text").attr("x", x + 39).attr("y", y).attr("dy", "0.35em").attr("text-anchor", "start")
    .style("font-size", "19px").style("font-weight", "bold").attr("fill", "#000").text(name);
});
svg.append("rect").attr("x", 8.5).attr("y", 4.5).attr("width", 1346).attr("height", 876).attr("rx", 4)
  .attr("fill", "none").attr("stroke", "#d9d9d9").attr("stroke-width", 1.5);
</script></body></html>
